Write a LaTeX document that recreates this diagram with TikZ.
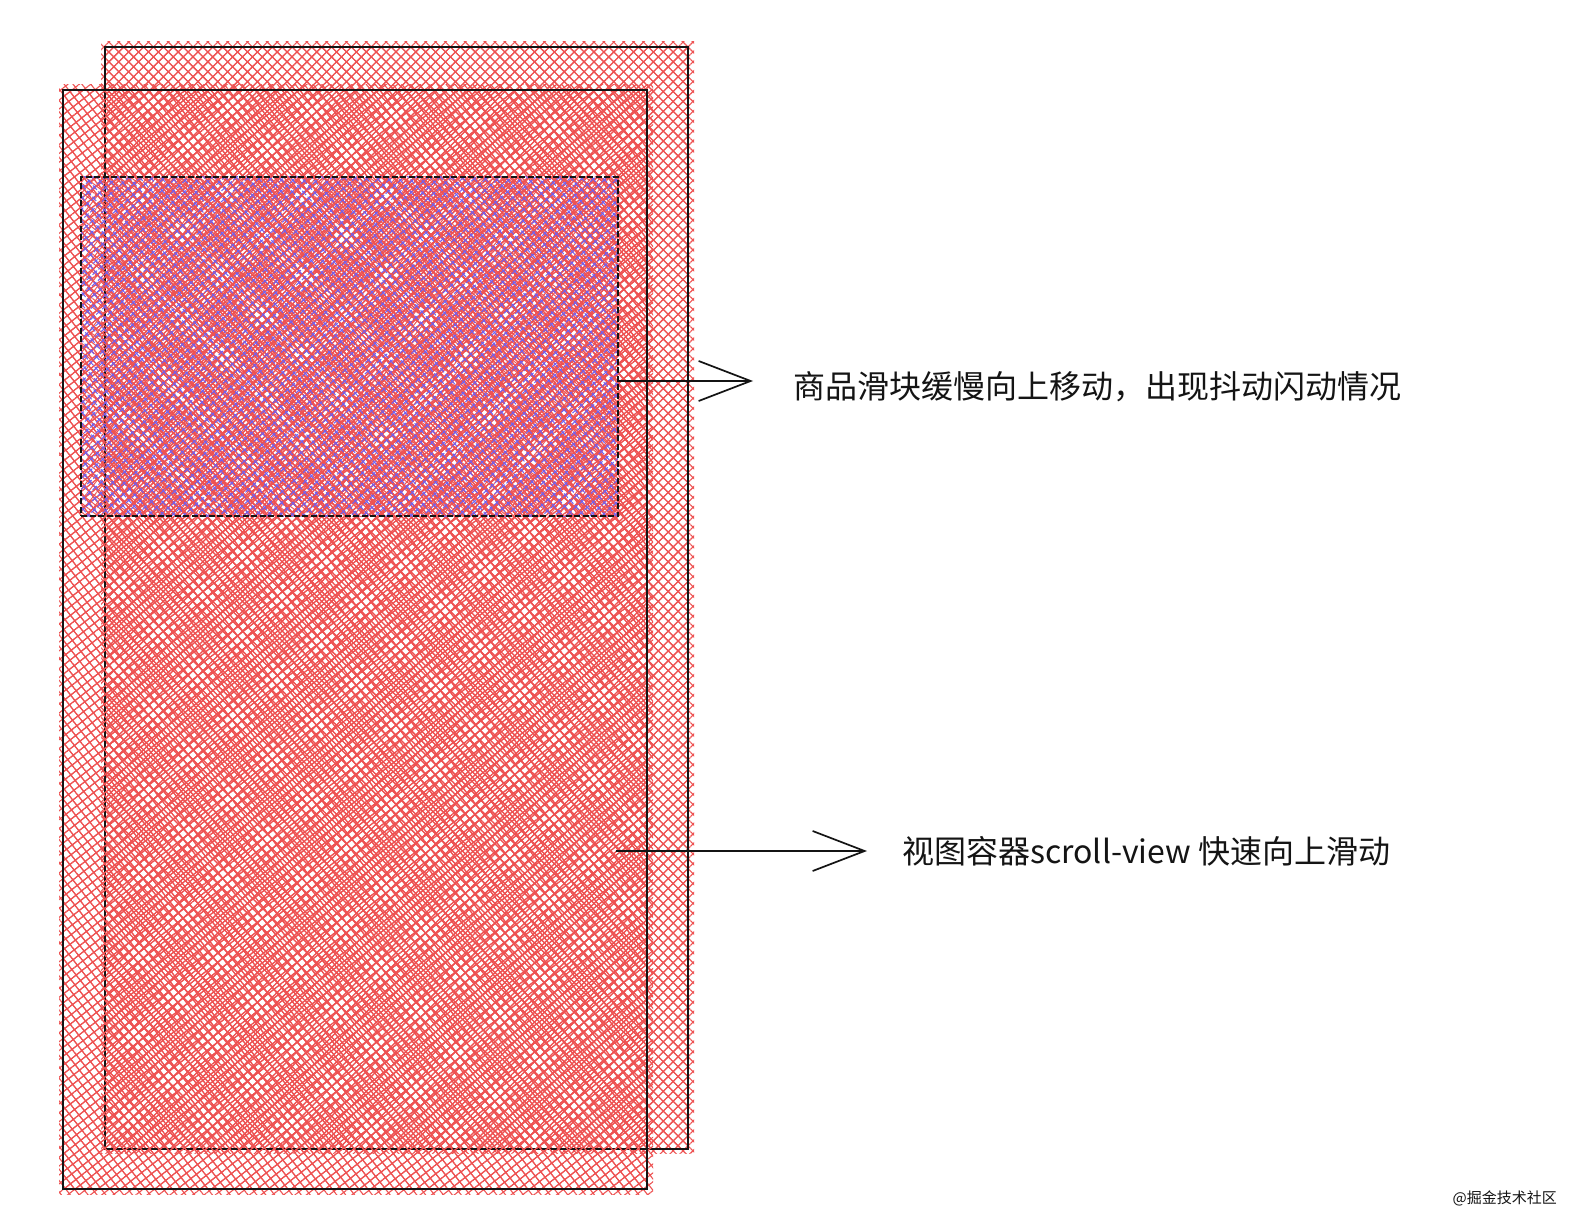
\documentclass[tikz,border=0pt]{standalone}
\usepackage{fontspec}
\newfontfamily\cjk{Noto Sans CJK SC}
\usetikzlibrary{patterns.meta,arrows.meta}
\definecolor{hred}{RGB}{238,82,82}
\definecolor{hblue}{RGB}{112,96,240}
\definecolor{ink}{RGB}{20,20,20}
\begin{document}
\begin{tikzpicture}[x=1pt,y=-1pt,
  backhatch/.style={pattern={Hatch[angle=45,distance=7pt,line width=1.1pt]},pattern color=hred},
  fronthatch/.style={pattern={Hatch[angle=38,distance=7pt,line width=1.1pt]},pattern color=hred},
  slidehatchA/.style={pattern={Hatch[angle=52,distance=7pt,line width=1pt]},pattern color=hred},
  slidehatchB/.style={pattern={Hatch[angle=42,distance=8pt,line width=1pt]},pattern color=hblue},
  boxline/.style={draw=ink,line width=2.3pt,inner sep=0pt,outer sep=0pt},
  dashline/.style={draw=ink,line width=1.5pt,dash pattern=on 6pt off 2.5pt,inner sep=0pt,outer sep=0pt},
  conn/.style={draw=ink,line width=1.7pt,-{Straight Barb[length=52pt,width=40pt,line width=1.7pt]}},
  lbl/.style={font=\cjk\fontsize{32}{37}\selectfont,text=ink,anchor=west,inner sep=0pt}
]
\useasboundingbox (0,0) rectangle (1584,1230);
\fill[white] (0,0) rectangle (1584,1230);
% back rectangle
\path[backhatch] (101,42) rectangle (694,1153);
\node[boxline,backhatch,minimum width=583pt,minimum height=1102pt] (back) at (396.5,598) {};
% front rectangle
\path[fronthatch] (59,85) rectangle (653,1194);
\node[boxline,fronthatch,minimum width=584pt,minimum height=1099pt] (front) at (355,639.5) {};
% slider
\path[slidehatchA] (81,177) rectangle (618,516);
\node[dashline,slidehatchB,minimum width=537pt,minimum height=339pt] (slider) at (349.5,346.5) {};
% arrows
\coordinate (t1) at (753,381);
\coordinate (s2) at (616,851);
\coordinate (t2) at (867,851);
\draw[conn] (slider.east |- t1) -- (t1);
\draw[conn] (s2) -- (t2);
% labels
\node[lbl] (l1) at (793,387) {商品滑块缓慢向上移动，出现抖动闪动情况};
\node[lbl] (l2) at (902,851) {视图容器scroll-view 快速向上滑动};
\node[font=\cjk\fontsize{15}{17}\selectfont,text=ink,anchor=east,inner sep=0pt] (wm) at (1557,1198) {@掘金技术社区};
\end{tikzpicture}
\end{document}
